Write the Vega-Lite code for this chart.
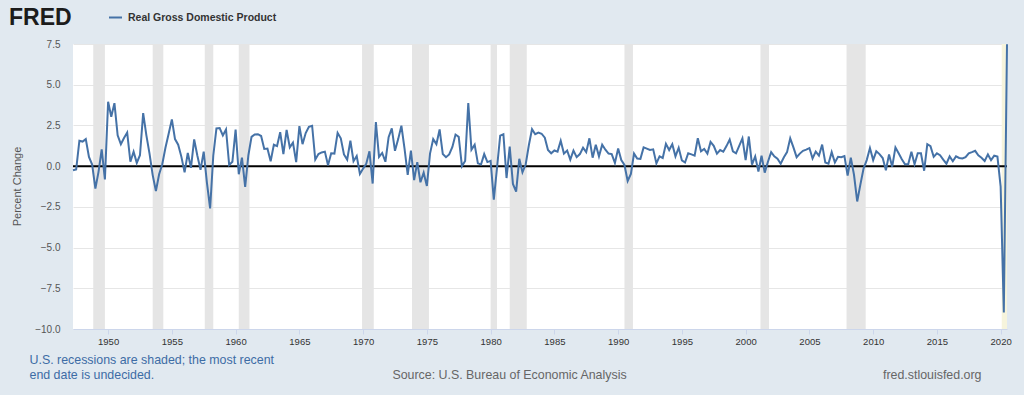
{
"$schema": "https://vega.github.io/schema/vega-lite/v6.json",
"width": 934, "height": 285,
"autosize": {"type": "none"},
"padding": {"left": 73, "top": 44, "right": 17, "bottom": 66},
"background": "#e1e9f0",
"title": {"text": "FRED", "anchor": "start", "frame": "group", "dx": -64, "offset": 0, "dy": 38, "baseline": "alphabetic", "fontSize": 23, "fontWeight": 900, "font": "Liberation Sans", "color": "#1c1c1c"},
"datasets": {
"recessions": [
{"start":"1948-11-01","end":"1949-10-01","status":"recession"},
{"start":"1953-07-01","end":"1954-05-01","status":"recession"},
{"start":"1957-08-01","end":"1958-04-01","status":"recession"},
{"start":"1960-04-01","end":"1961-02-01","status":"recession"},
{"start":"1969-12-01","end":"1970-11-01","status":"recession"},
{"start":"1973-11-01","end":"1975-03-01","status":"recession"},
{"start":"1980-01-01","end":"1980-07-01","status":"recession"},
{"start":"1981-07-01","end":"1982-11-01","status":"recession"},
{"start":"1990-07-01","end":"1991-03-01","status":"recession"},
{"start":"2001-03-01","end":"2001-11-01","status":"recession"},
{"start":"2007-12-01","end":"2009-06-01","status":"recession"},
{"start":"2020-02-01","end":"2020-07-01","status":"undecided"}
],
"gdp": [
{"date":"1947-04-01","value":-0.25},{"date":"1947-07-01","value":-0.2},{"date":"1947-10-01","value":1.56},
{"date":"1948-01-01","value":1.51},{"date":"1948-04-01","value":1.66},{"date":"1948-07-01","value":0.57},{"date":"1948-10-01","value":0.1},
{"date":"1949-01-01","value":-1.38},{"date":"1949-04-01","value":-0.35},{"date":"1949-07-01","value":1.03},{"date":"1949-10-01","value":-0.81},
{"date":"1950-01-01","value":3.95},{"date":"1950-04-01","value":3.03},{"date":"1950-07-01","value":3.87},{"date":"1950-10-01","value":1.89},
{"date":"1951-01-01","value":1.35},{"date":"1951-04-01","value":1.73},{"date":"1951-07-01","value":2.06},{"date":"1951-10-01","value":0.27},
{"date":"1952-01-01","value":0.89},{"date":"1952-04-01","value":0.2},{"date":"1952-07-01","value":0.67},{"date":"1952-10-01","value":3.26},
{"date":"1953-01-01","value":1.89},{"date":"1953-04-01","value":0.77},{"date":"1953-07-01","value":-0.55},{"date":"1953-10-01","value":-1.53},
{"date":"1954-01-01","value":-0.5},{"date":"1954-04-01","value":0.12},{"date":"1954-07-01","value":1.13},{"date":"1954-10-01","value":1.99},
{"date":"1955-01-01","value":2.87},{"date":"1955-04-01","value":1.66},{"date":"1955-07-01","value":1.32},{"date":"1955-10-01","value":0.57},
{"date":"1956-01-01","value":-0.38},{"date":"1956-04-01","value":0.81},{"date":"1956-07-01","value":-0.1},{"date":"1956-10-01","value":1.64},
{"date":"1957-01-01","value":0.64},{"date":"1957-04-01","value":-0.23},{"date":"1957-07-01","value":0.89},{"date":"1957-10-01","value":-1.01},
{"date":"1958-01-01","value":-2.6},{"date":"1958-04-01","value":0.64},{"date":"1958-07-01","value":2.32},{"date":"1958-10-01","value":2.34},
{"date":"1959-01-01","value":1.89},{"date":"1959-04-01","value":2.25},{"date":"1959-07-01","value":0.07},{"date":"1959-10-01","value":0.27},
{"date":"1960-01-01","value":2.25},{"date":"1960-04-01","value":-0.5},{"date":"1960-07-01","value":0.52},{"date":"1960-10-01","value":-1.27},
{"date":"1961-01-01","value":0.67},{"date":"1961-04-01","value":1.8},{"date":"1961-07-01","value":1.94},{"date":"1961-10-01","value":1.96},
{"date":"1962-01-01","value":1.85},{"date":"1962-04-01","value":1.06},{"date":"1962-07-01","value":1.08},{"date":"1962-10-01","value":0.3},
{"date":"1963-01-01","value":1.32},{"date":"1963-04-01","value":1.23},{"date":"1963-07-01","value":2.08},{"date":"1963-10-01","value":0.74},
{"date":"1964-01-01","value":2.22},{"date":"1964-04-01","value":1.15},{"date":"1964-07-01","value":1.44},{"date":"1964-10-01","value":0.25},
{"date":"1965-01-01","value":2.46},{"date":"1965-04-01","value":1.35},{"date":"1965-07-01","value":2.03},{"date":"1965-10-01","value":2.41},
{"date":"1966-01-01","value":2.48},{"date":"1966-04-01","value":0.4},{"date":"1966-07-01","value":0.74},{"date":"1966-10-01","value":0.84},
{"date":"1967-01-01","value":0.89},{"date":"1967-04-01","value":0.05},{"date":"1967-07-01","value":0.79},{"date":"1967-10-01","value":0.77},
{"date":"1968-01-01","value":2.04},{"date":"1968-04-01","value":1.71},{"date":"1968-07-01","value":0.72},{"date":"1968-10-01","value":0.4},
{"date":"1969-01-01","value":1.56},{"date":"1969-04-01","value":0.3},{"date":"1969-07-01","value":0.62},{"date":"1969-10-01","value":-0.48},
{"date":"1970-01-01","value":-0.15},{"date":"1970-04-01","value":0.15},{"date":"1970-07-01","value":0.91},{"date":"1970-10-01","value":-1.07},
{"date":"1971-01-01","value":2.71},{"date":"1971-04-01","value":0.57},{"date":"1971-07-01","value":0.81},{"date":"1971-10-01","value":0.27},
{"date":"1972-01-01","value":1.78},{"date":"1972-04-01","value":2.32},{"date":"1972-07-01","value":0.94},{"date":"1972-10-01","value":1.66},
{"date":"1973-01-01","value":2.48},{"date":"1973-04-01","value":1.08},{"date":"1973-07-01","value":-0.53},{"date":"1973-10-01","value":0.96},
{"date":"1974-01-01","value":-0.86},{"date":"1974-04-01","value":0.25},{"date":"1974-07-01","value":-0.99},{"date":"1974-10-01","value":-0.4},
{"date":"1975-01-01","value":-1.22},{"date":"1975-04-01","value":0.77},{"date":"1975-07-01","value":1.66},{"date":"1975-10-01","value":1.35},
{"date":"1976-01-01","value":2.25},{"date":"1976-04-01","value":0.74},{"date":"1976-07-01","value":0.55},{"date":"1976-10-01","value":0.72},
{"date":"1977-01-01","value":1.18},{"date":"1977-04-01","value":1.94},{"date":"1977-07-01","value":1.8},{"date":"1977-10-01","value":0.0},
{"date":"1978-01-01","value":0.32},{"date":"1978-04-01","value":3.87},{"date":"1978-07-01","value":1.01},{"date":"1978-10-01","value":1.32},
{"date":"1979-01-01","value":0.17},{"date":"1979-04-01","value":0.1},{"date":"1979-07-01","value":0.74},{"date":"1979-10-01","value":0.25},
{"date":"1980-01-01","value":0.32},{"date":"1980-04-01","value":-2.06},{"date":"1980-07-01","value":-0.13},{"date":"1980-10-01","value":1.87},
{"date":"1981-01-01","value":1.96},{"date":"1981-04-01","value":-0.73},{"date":"1981-07-01","value":1.2},{"date":"1981-10-01","value":-1.09},
{"date":"1982-01-01","value":-1.56},{"date":"1982-04-01","value":0.45},{"date":"1982-07-01","value":-0.38},{"date":"1982-10-01","value":0.1},
{"date":"1983-01-01","value":1.3},{"date":"1983-04-01","value":2.27},{"date":"1983-07-01","value":1.96},{"date":"1983-10-01","value":2.06},
{"date":"1984-01-01","value":1.99},{"date":"1984-04-01","value":1.75},{"date":"1984-07-01","value":0.99},{"date":"1984-10-01","value":0.79},
{"date":"1985-01-01","value":0.96},{"date":"1985-04-01","value":0.89},{"date":"1985-07-01","value":1.56},{"date":"1985-10-01","value":0.77},
{"date":"1986-01-01","value":0.96},{"date":"1986-04-01","value":0.4},{"date":"1986-07-01","value":0.96},{"date":"1986-10-01","value":0.55},
{"date":"1987-01-01","value":0.74},{"date":"1987-04-01","value":1.13},{"date":"1987-07-01","value":0.86},{"date":"1987-10-01","value":1.71},
{"date":"1988-01-01","value":0.52},{"date":"1988-04-01","value":1.32},{"date":"1988-07-01","value":0.6},{"date":"1988-10-01","value":1.32},
{"date":"1989-01-01","value":1.01},{"date":"1989-04-01","value":0.77},{"date":"1989-07-01","value":0.74},{"date":"1989-10-01","value":0.2},
{"date":"1990-01-01","value":1.08},{"date":"1990-04-01","value":0.37},{"date":"1990-07-01","value":0.07},{"date":"1990-10-01","value":-0.91},
{"date":"1991-01-01","value":-0.48},{"date":"1991-04-01","value":0.77},{"date":"1991-07-01","value":0.47},{"date":"1991-10-01","value":0.45},
{"date":"1992-01-01","value":1.15},{"date":"1992-04-01","value":1.08},{"date":"1992-07-01","value":0.99},{"date":"1992-10-01","value":1.03},
{"date":"1993-01-01","value":0.17},{"date":"1993-04-01","value":0.6},{"date":"1993-07-01","value":0.5},{"date":"1993-10-01","value":1.37},
{"date":"1994-01-01","value":0.99},{"date":"1994-04-01","value":1.35},{"date":"1994-07-01","value":0.6},{"date":"1994-10-01","value":1.13},
{"date":"1995-01-01","value":0.35},{"date":"1995-04-01","value":0.22},{"date":"1995-07-01","value":0.79},{"date":"1995-10-01","value":0.72},
{"date":"1996-01-01","value":0.64},{"date":"1996-04-01","value":1.71},{"date":"1996-07-01","value":0.91},{"date":"1996-10-01","value":1.06},
{"date":"1997-01-01","value":0.77},{"date":"1997-04-01","value":1.49},{"date":"1997-07-01","value":1.25},{"date":"1997-10-01","value":0.77},
{"date":"1998-01-01","value":0.99},{"date":"1998-04-01","value":0.89},{"date":"1998-07-01","value":1.23},{"date":"1998-10-01","value":1.63},
{"date":"1999-01-01","value":0.91},{"date":"1999-04-01","value":0.79},{"date":"1999-07-01","value":1.25},{"date":"1999-10-01","value":1.71},
{"date":"2000-01-01","value":0.37},{"date":"2000-04-01","value":1.82},{"date":"2000-07-01","value":0.1},{"date":"2000-10-01","value":0.6},
{"date":"2001-01-01","value":-0.33},{"date":"2001-04-01","value":0.64},{"date":"2001-07-01","value":-0.4},{"date":"2001-10-01","value":0.27},
{"date":"2002-01-01","value":0.86},{"date":"2002-04-01","value":0.6},{"date":"2002-07-01","value":0.45},{"date":"2002-10-01","value":0.15},
{"date":"2003-01-01","value":0.55},{"date":"2003-04-01","value":0.86},{"date":"2003-07-01","value":1.71},{"date":"2003-10-01","value":1.15},
{"date":"2004-01-01","value":0.55},{"date":"2004-04-01","value":0.77},{"date":"2004-07-01","value":0.94},{"date":"2004-10-01","value":1.01},
{"date":"2005-01-01","value":1.11},{"date":"2005-04-01","value":0.47},{"date":"2005-07-01","value":0.89},{"date":"2005-10-01","value":0.64},
{"date":"2006-01-01","value":1.32},{"date":"2006-04-01","value":0.22},{"date":"2006-07-01","value":0.15},{"date":"2006-10-01","value":0.86},
{"date":"2007-01-01","value":0.22},{"date":"2007-04-01","value":0.57},{"date":"2007-07-01","value":0.55},{"date":"2007-10-01","value":0.62},
{"date":"2008-01-01","value":-0.58},{"date":"2008-04-01","value":0.52},{"date":"2008-07-01","value":-0.53},{"date":"2008-10-01","value":-2.17},
{"date":"2009-01-01","value":-1.12},{"date":"2009-04-01","value":-0.15},{"date":"2009-07-01","value":0.37},{"date":"2009-10-01","value":1.11},
{"date":"2010-01-01","value":0.37},{"date":"2010-04-01","value":0.91},{"date":"2010-07-01","value":0.74},{"date":"2010-10-01","value":0.5},
{"date":"2011-01-01","value":-0.25},{"date":"2011-04-01","value":0.72},{"date":"2011-07-01","value":-0.03},{"date":"2011-10-01","value":1.15},
{"date":"2012-01-01","value":0.79},{"date":"2012-04-01","value":0.42},{"date":"2012-07-01","value":0.12},{"date":"2012-10-01","value":0.12},
{"date":"2013-01-01","value":0.89},{"date":"2013-04-01","value":0.12},{"date":"2013-07-01","value":0.79},{"date":"2013-10-01","value":0.79},
{"date":"2014-01-01","value":-0.28},{"date":"2014-04-01","value":1.35},{"date":"2014-07-01","value":1.23},{"date":"2014-10-01","value":0.57},
{"date":"2015-01-01","value":0.79},{"date":"2015-04-01","value":0.67},{"date":"2015-07-01","value":0.4},{"date":"2015-10-01","value":0.15},
{"date":"2016-01-01","value":0.6},{"date":"2016-04-01","value":0.3},{"date":"2016-07-01","value":0.6},{"date":"2016-10-01","value":0.5},
{"date":"2017-01-01","value":0.47},{"date":"2017-04-01","value":0.55},{"date":"2017-07-01","value":0.79},{"date":"2017-10-01","value":0.86},
{"date":"2018-01-01","value":0.94},{"date":"2018-04-01","value":0.67},{"date":"2018-07-01","value":0.52},{"date":"2018-10-01","value":0.32},
{"date":"2019-01-01","value":0.72},{"date":"2019-04-01","value":0.37},{"date":"2019-07-01","value":0.64},{"date":"2019-10-01","value":0.59},
{"date":"2020-01-01","value":-1.26},{"date":"2020-04-01","value":-8.99},{"date":"2020-07-01","value":7.48}
],
"baseline": [{"level": 0}]
},
"layer": [
{
"data": {"name": "recessions"},
"mark": {"type": "rect"},
"encoding": {
"x": {"field": "start", "type": "temporal", "scale": {"type": "utc", "domain": ["1947-04-01", "2020-07-01"]},
"axis": {"orient": "top", "title": ["U.S. recessions are shaded; the most recent", "end date is undecided."], "labels": false, "ticks": false, "domain": false, "grid": false,
"titleAlign": "left", "titleAnchor": "start", "titleX": -44, "titleY": 315, "titleBaseline": "middle", "titleLineHeight": 15, "titleColor": "#3d6ca5", "titleFontSize": 12.4, "titleFontWeight": "normal", "titleFont": "Liberation Sans"}},
"x2": {"field": "end"},
"fill": {"field": "status", "type": "nominal", "scale": {"domain": ["recession", "undecided"], "range": ["#e5e5e5", "#f6f4dc"]}, "legend": null}
}
},
{
"data": {"name": "baseline"},
"mark": {"type": "rule", "color": "#000000", "strokeWidth": 2},
"encoding": {
"y": {"field": "level", "type": "quantitative", "scale": {"domain": [-10, 7.5], "nice": false, "zero": false},
"axis": {"orient": "right", "title": "fred.stlouisfed.org", "labels": false, "ticks": false, "domain": false, "grid": false,
"titleAngle": 0, "titleAlign": "right", "titleBaseline": "middle", "titleX": -26, "titleY": 330, "titleColor": "#666666", "titleFontSize": 12.4, "titleFontWeight": "normal", "titleFont": "Liberation Sans"}}
}
},
{
"data": {"name": "gdp"},
"mark": {"type": "line", "strokeWidth": 2},
"encoding": {
"x": {"field": "date", "type": "temporal", "scale": {"type": "utc", "domain": ["1947-04-01", "2020-07-01"]},
"axis": {"orient": "bottom", "title": "Source: U.S. Bureau of Economic Analysis", "format": "%Y", "tickCount": {"interval": "year", "step": 5}, "grid": false,
"domainColor": "#ccd6eb", "tickColor": "#ccd6eb", "tickSize": 5, "labelFontSize": 9.5, "labelColor": "#333333", "labelPadding": 2, "labelFlush": false, "labelFont": "Liberation Sans",
"titleX": 436, "titleY": 45, "titleAlign": "center", "titleBaseline": "middle", "titleColor": "#666666", "titleFontSize": 12.4, "titleFontWeight": "normal", "titleFont": "Liberation Sans"}},
"y": {"field": "value", "type": "quantitative", "scale": {"domain": [-10, 7.5], "nice": false, "zero": false},
"axis": {"orient": "left", "values": [-10, -7.5, -5, -2.5, 0, 2.5, 5, 7.5], "format": ".1f", "title": "Percent Change", "domain": false, "ticks": false, "grid": true, "gridColor": "#e6e6e6", "gridWidth": 1,
"labelFontSize": 10, "labelColor": "#555555", "labelPadding": 13, "labelFont": "Liberation Sans",
"titleFontSize": 11, "titleFontWeight": "normal", "titleColor": "#555555", "titleFont": "Liberation Sans", "titleX": -56, "titleY": 142, "titleBaseline": "middle", "titleAlign": "center", "titleAngle": -90}},
"color": {"datum": "Real Gross Domestic Product", "type": "nominal", "scale": {"range": ["#4572a7"]},
"legend": {"orient": "none", "legendX": 35, "legendY": -34, "title": null, "symbolType": "stroke", "symbolStrokeWidth": 2, "symbolSize": 169, "labelFontSize": 10.5, "labelFontWeight": "bold", "labelColor": "#333333", "labelFont": "Liberation Sans", "labelOffset": 5, "padding": 0}}
}
}
],
"resolve": {"axis": {"x": "independent", "y": "independent"}},
"config": {"view": {"fill": "white", "stroke": null}, "font": "Liberation Sans"}
}
